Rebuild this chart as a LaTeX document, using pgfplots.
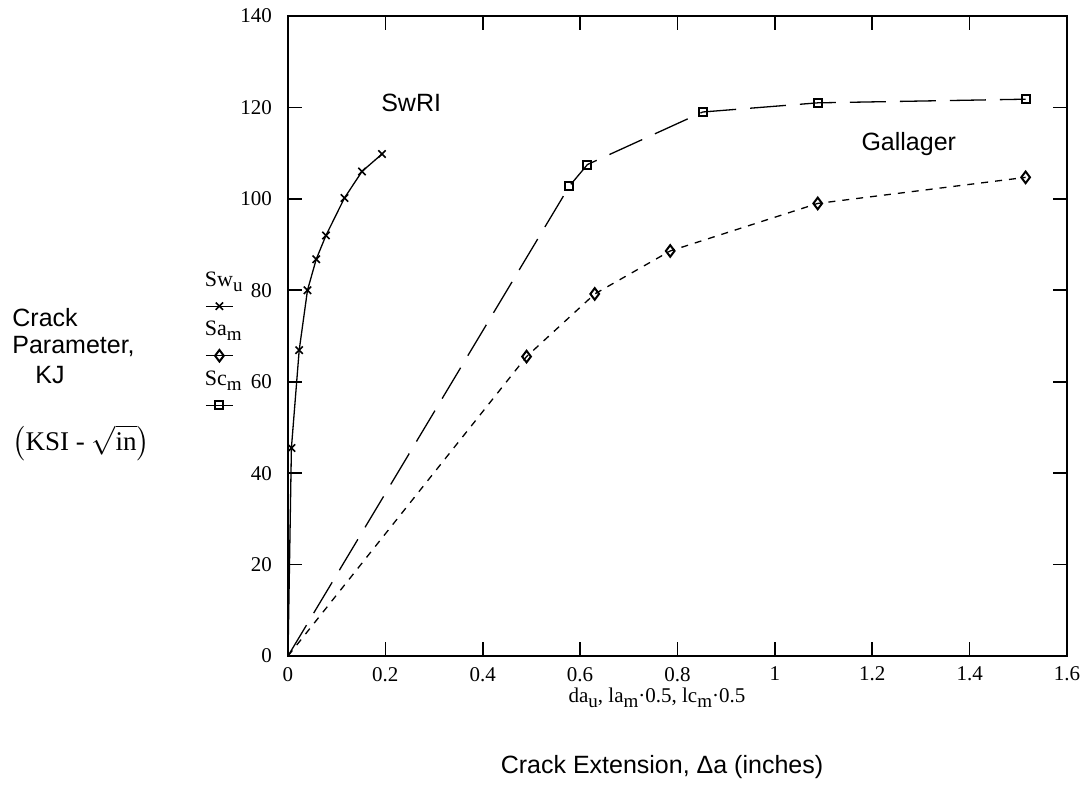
\documentclass[border=0pt]{standalone}
\usepackage{fontspec}
\setmainfont{Liberation Serif}
\newfontfamily\sansf{Liberation Sans}
\usepackage{amsmath}
\usepackage{pgfplots}
\usepackage{pgfplotstable}
\pgfplotsset{compat=1.18}

\pgfplotstableread{
x y
0 0
0.007 45.5
0.023 66.9
0.040 80
0.058 86.8
0.078 92
0.116 100.2
0.152 106
0.193 109.8
}\swdata
\pgfplotstableread{
x y
0 0
0.490 65.5
0.630 79.2
0.785 88.6
1.088 99.0
1.515 104.7
}\sadata
\pgfplotstableread{
x y
0 0
0.578 102.8
0.615 107.5
0.852 119.0
1.088 121.0
1.515 121.8
}\scdata

\newcommand{\lsub}[1]{\raisebox{-0.5ex}{\fontsize{9.5}{10}\selectfont #1}}

\pgfplotsset{
  swstyle/.style={black, line width=0.65pt, solid, mark=x, mark size=2.6pt, mark options={solid, line width=0.8pt}},
  sastyle/.style={black, line width=0.65pt, dash pattern=on 3.5pt off 3.5pt, mark=diamond, mark size=2.9pt, mark options={solid, fill=white, line width=1pt}},
  scstyle/.style={black, line width=0.65pt, dash pattern=on 18pt off 7pt, mark=square, mark size=2pt, mark options={solid, fill=white, line width=1pt}},
  symimg/.style={legend image code/.code={\draw[overlay, solid, line width=0.65pt, mark repeat=2, mark phase=2] plot coordinates {(0.5pt,-12.5pt) (7.25pt,-12.5pt) (14pt,-12.5pt)};}},
}

\begin{document}
\begin{tikzpicture}
\useasboundingbox (-144pt,-65pt) rectangle (400pt,328pt);
\begin{axis}[
  scale only axis, width=389.5pt, height=320pt,
  xmin=0, xmax=1.6, ymin=0, ymax=140,
  xtick={0,0.2,0.4,0.6,0.8,1,1.2,1.4,1.6},
  xticklabels={0,0.2,0.4,0.6,0.8,1,1.2,1.4,1.6},
  ytick={0,20,40,60,80,100,120,140},
  tick align=inside, major tick length=7pt,
  axis line style={line width=1pt},
  tick style={line width=0.8pt, black},
  /pgf/number format/assume math mode=true,
  ticklabel style={font=\fontsize{10.5}{11}\selectfont},
  xticklabel style={yshift=-2pt},
  yticklabel style={xshift=-4.5pt},
  legend style={at={(axis description cs:-0.1066,0.606)}, anchor=north west, draw=none, fill=none, inner sep=0pt, outer sep=0pt, row sep=11.8pt, column sep=0pt,
    nodes={inner sep=0pt, text height=9pt, text depth=4pt, font=\fontsize{11}{12}\selectfont, anchor=west}},
  legend cell align=left,
]
\addplot[swstyle, mark indices={2,3,4,5,6,7,8,9}, forget plot] table[x=x,y=y] {\swdata};
\addplot[sastyle, mark indices={2,3,4,5,6}, forget plot] table[x=x,y=y] {\sadata};
\addplot[scstyle, mark indices={2,3,4,5,6}, forget plot] table[x=x,y=y] {\scdata};

\addlegendimage{swstyle, symimg}\addlegendentry{Sw\lsub{u}}
\addlegendimage{sastyle, symimg}\addlegendentry{Sa\lsub{m}}
\addlegendimage{scstyle, symimg}\addlegendentry{Sc\lsub{m}}

\node[font=\sansf\fontsize{12.5}{14}\selectfont] at (axis cs:0.253,121) {SwRI};
\node[font=\sansf\fontsize{12.5}{14}\selectfont] at (axis cs:1.275,112) {Gallager};
\end{axis}
\node[font=\fontsize{10.5}{12}\selectfont] at (184.5pt,-21pt) {da\lsub{u}, la\lsub{m}·0.5, lc\lsub{m}·0.5};
\node[font=\sansf\fontsize{12.5}{14}\selectfont] at (187pt,-55.5pt) {Crack Extension, Δa (inches)};
\node[font=\sansf\fontsize{12.5}{14}\selectfont, anchor=west, inner sep=0pt] at (-138pt,169pt) {Crack};
\node[font=\sansf\fontsize{12.5}{14}\selectfont, anchor=west, inner sep=0pt] at (-138pt,154.5pt) {Parameter,};
\node[font=\sansf\fontsize{12.5}{14}\selectfont, anchor=west, inner sep=0pt] at (-126.5pt,140.5pt) {KJ};
\node[font=\fontsize{13.5}{16}\selectfont, anchor=west, inner sep=0pt] at (-138pt,106.5pt) {$\left(\text{KSI~-~}\sqrt{\text{in}}\right)$};
\end{tikzpicture}
\end{document}
